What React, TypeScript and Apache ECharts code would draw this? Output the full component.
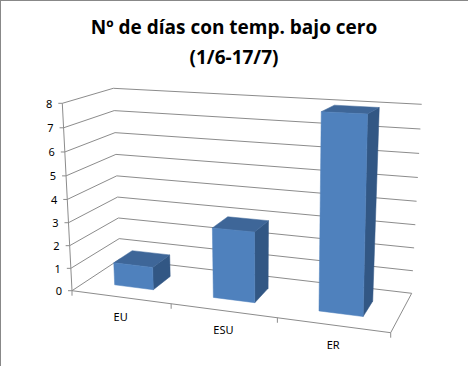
import React, { useEffect, useRef } from 'react';
import * as echarts from 'echarts';

const categories = ['EU', 'ESU', 'ER'];
const dayCounts = [1, 3, 8];
const yTicks = [0, 1, 2, 3, 4, 5, 6, 7, 8];
const titleText = 'Nº de días con temp. bajo cero\n(1/6-17/7)';

// screen corners of the 3D plot box: [u][t][w]
const P000 = [72, 290.7];
const P100 = [390.7, 332.7];
const P010 = [62.3, 103.3];
const P110 = [395, 121];
const P001 = [120, 259];
const P101 = [411.7, 293.3];
const P011 = [113.3, 88.3];
const P111 = [421.7, 104.3];

const lerp = (a: number[], b: number[], k: number) => [a[0] + (b[0] - a[0]) * k, a[1] + (b[1] - a[1]) * k];

function proj(u: number, t: number, w: number): number[] {
  const ug = u - 0.1 * u * (1 - u);
  const tf = (t + 0.055 * t * t) / 1.055;
  const b0 = lerp(lerp(P000, P100, ug), lerp(P001, P101, ug), w);
  const b1 = lerp(lerp(P010, P110, ug), lerp(P011, P111, ug), w);
  return lerp(b0, b1, tf);
}

const GRID = '#8c8c8c';
const FONT = '"Noto Sans", sans-serif';

export default function App() {
  const ref = useRef<HTMLDivElement>(null);
  useEffect(() => {
    if (!ref.current) return;
    const chart = echarts.init(ref.current, undefined, { renderer: 'svg' });
    const norm = (cs: any, p: number[]) => [
      (p[0] - cs.x) / cs.width,
      (cs.y + cs.height - p[1]) / cs.height,
    ];
    chart.setOption({
      animation: false,
      backgroundColor: '#fff',
      title: {
        text: titleText,
        left: 'center',
        top: 12,
        padding: 0,
        textStyle: { fontFamily: '"Open Sans", sans-serif', fontWeight: 'bold', fontSize: 19, lineHeight: 30, color: '#000' },
      },
      graphic: [
        { type: 'line', shape: { x1: 0, y1: 0.5, x2: 468, y2: 0.5 }, style: { stroke: '#888', lineWidth: 1 } },
        { type: 'line', shape: { x1: 0.5, y1: 0, x2: 0.5, y2: 366 }, style: { stroke: '#888', lineWidth: 1 } },
      ],
      grid: { left: 0, top: 0, width: 300, height: 300, show: false },
      xAxis: { type: 'category', data: categories, show: false, boundaryGap: true },
      yAxis: { type: 'value', min: 0, max: 8, interval: 1, show: false },
      series: [
        {
          type: 'custom',
          z: 1,
          silent: true,
          data: yTicks.map((v) => [0, v]),
          renderItem: (params: any, api: any) => {
            const cs = params.coordSys;
            const v = api.value(1);
            const [, t] = norm(cs, api.coord([0, v]));
            const a = proj(0, t, 0);
            const b = proj(0, t, 1);
            const c = proj(1, t, 1);
            const children: any[] = [
              { type: 'polyline', shape: { points: [a, b, c] }, style: { stroke: GRID, lineWidth: 1, fill: 'none' } },
              { type: 'line', shape: { x1: a[0] - 4, y1: a[1], x2: a[0], y2: a[1] }, style: { stroke: GRID, lineWidth: 1 } },
              {
                type: 'text',
                style: { x: a[0] - 10, y: a[1], text: String(v), align: 'right', verticalAlign: 'middle', fill: '#000', font: `11px ${FONT}` },
              },
            ];
            if (params.dataIndex === 0) {
              const top = proj(0, 1, 0);
              const fr = proj(1, 0, 0);
              const br = proj(1, 0, 1);
              children.push(
                { type: 'line', shape: { x1: a[0], y1: a[1], x2: top[0], y2: top[1] }, style: { stroke: GRID, lineWidth: 1 } },
                { type: 'polyline', shape: { points: [a, fr, br] }, style: { stroke: GRID, lineWidth: 1, fill: 'none' } },
              );
            }
            return { type: 'group', children };
          },
        },
        {
          type: 'custom',
          z: 2,
          silent: true,
          data: categories.map((c, i) => [i, 0]),
          renderItem: (params: any, api: any) => {
            const cs = params.coordSys;
            const i = api.value(0);
            const center = api.coord([i, 0]);
            const band = api.size([1, 0])[0];
            const [uc] = norm(cs, center);
            const [ul] = norm(cs, [center[0] - band / 2, center[1]]);
            const [ur] = norm(cs, [center[0] + band / 2, center[1]]);
            const pc = proj(uc, 0, 0);
            const pl = proj(ul, 0, 0);
            const children: any[] = [
              { type: 'line', shape: { x1: pl[0], y1: pl[1], x2: pl[0], y2: pl[1] + 5 }, style: { stroke: GRID, lineWidth: 1 } },
              {
                type: 'text',
                style: { x: pc[0], y: pc[1] + 19, text: categories[i], align: 'center', verticalAlign: 'middle', fill: '#000', font: `11px ${FONT}` },
              },
            ];
            if (i === categories.length - 1) {
              const pr = proj(ur, 0, 0);
              children.push({ type: 'line', shape: { x1: pr[0], y1: pr[1], x2: pr[0], y2: pr[1] + 5 }, style: { stroke: GRID, lineWidth: 1 } });
            }
            return { type: 'group', children };
          },
        },
        {
          type: 'custom',
          z: 3,
          silent: true,
          data: dayCounts.map((v, i) => [i, v]),
          renderItem: (params: any, api: any) => {
            const cs = params.coordSys;
            const i = api.value(0);
            const top = api.coord([i, api.value(1)]);
            const half = api.size([1, 0])[0] * 0.2;
            const [u0, t] = norm(cs, [top[0] - half, top[1]]);
            const [u1] = norm(cs, [top[0] + half, top[1]]);
            const w0 = 0.3;
            const w1 = 0.7;
            const front = [proj(u0, 0, w0), proj(u1, 0, w0), proj(u1, t, w0), proj(u0, t, w0)];
            const topF = [proj(u0, t, w0), proj(u1, t, w0), proj(u1, t, w1), proj(u0, t, w1)];
            const side = [proj(u1, 0, w0), proj(u1, 0, w1), proj(u1, t, w1), proj(u1, t, w0)];
            return {
              type: 'group',
              children: [
                { type: 'polygon', shape: { points: side }, style: { fill: '#325784', stroke: '#325784', lineWidth: 0.5 } },
                { type: 'polygon', shape: { points: topF }, style: { fill: '#3e6698', stroke: '#3e6698', lineWidth: 0.5 } },
                { type: 'polygon', shape: { points: front }, style: { fill: '#4f81bd', stroke: '#4f81bd', lineWidth: 0.5 } },
              ],
            };
          },
        },
      ],
    });
    return () => chart.dispose();
  }, []);
  return <div ref={ref} style={{ position: 'fixed', left: 0, top: 0, width: 468, height: 366 }} />;
}
